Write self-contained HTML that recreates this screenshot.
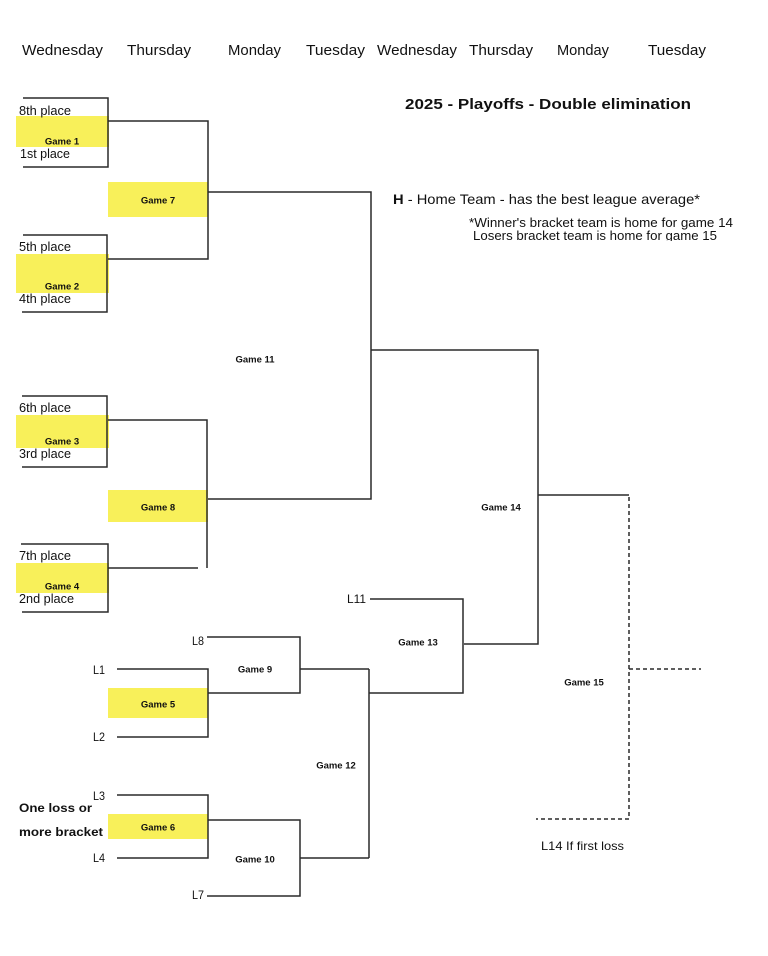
<!DOCTYPE html>
<html><head><meta charset="utf-8"><style>
html,body{margin:0;padding:0;background:#fff;}
svg{display:block;}
text{font-family:"Liberation Sans",sans-serif;fill:#111;}
.h{font-size:15px;}
.p{font-size:12.5px;}
.g{font-size:9.5px;font-weight:bold;}
.b{font-weight:bold;}
</style></head><body>
<svg width="768" height="956" viewBox="0 0 768 956" xmlns="http://www.w3.org/2000/svg">
<defs><clipPath id="cl"><rect x="0" y="0" width="768" height="241"/></clipPath></defs>
<!-- headers -->
<text class="h" x="22" y="55" textLength="81" lengthAdjust="spacingAndGlyphs">Wednesday</text>
<text class="h" x="127" y="55" textLength="64" lengthAdjust="spacingAndGlyphs">Thursday</text>
<text class="h" x="228" y="55" textLength="53" lengthAdjust="spacingAndGlyphs">Monday</text>
<text class="h" x="306" y="55" textLength="59" lengthAdjust="spacingAndGlyphs">Tuesday</text>
<text class="h" x="377" y="55" textLength="80" lengthAdjust="spacingAndGlyphs">Wednesday</text>
<text class="h" x="469" y="55" textLength="64" lengthAdjust="spacingAndGlyphs">Thursday</text>
<text class="h" x="557" y="55" textLength="52" lengthAdjust="spacingAndGlyphs">Monday</text>
<text class="h" x="648" y="55" textLength="58" lengthAdjust="spacingAndGlyphs">Tuesday</text>
<!-- title & notes -->
<text x="405" y="109" font-size="15" font-weight="bold" textLength="286" lengthAdjust="spacingAndGlyphs">2025 - Playoffs - Double elimination</text>
<text x="393" y="204" font-size="14" textLength="307" lengthAdjust="spacingAndGlyphs"><tspan font-weight="bold">H</tspan> - Home Team - has the best league average*</text>
<text x="469" y="227" font-size="12.5" textLength="264" lengthAdjust="spacingAndGlyphs">*Winner's bracket team is home for game 14</text>
<g clip-path="url(#cl)"><text x="473" y="240" font-size="12.5" textLength="244" lengthAdjust="spacingAndGlyphs">Losers bracket team is home for game 15</text></g>
<!-- yellow boxes -->
<g fill="#F8F05A">
<rect x="16" y="116" width="93" height="31"/>
<rect x="16" y="254" width="93" height="39"/>
<rect x="16" y="415" width="93" height="33"/>
<rect x="16" y="563" width="93" height="30"/>
<rect x="108" y="182" width="100" height="35"/>
<rect x="108" y="490" width="100" height="32"/>
<rect x="108" y="688" width="100" height="30"/>
<rect x="108" y="814" width="100" height="25"/>
</g>
<!-- lines -->
<g fill="none" stroke="#2a2a2a" stroke-width="1.5">
<path d="M23,98 H108 V167 H23"/>
<path d="M108,121 H208 V259 H108"/>
<path d="M208,192 H371 V499 H208"/>
<path d="M23,235 H107 V312 H22"/>
<path d="M22,396 H107 V467 H22"/>
<path d="M108,420 H207 V568"/>
<path d="M108,568 H198"/>
<path d="M21,544 H108 V612 H22"/>
<path d="M371,350 H538 V644 H464"/>
<path d="M538,495 H629"/>
<path d="M370,599 H463 V693 H369"/>
<path d="M369,669 V858"/>
<path d="M300,669 H369"/>
<path d="M300,858 H369"/>
<path d="M207,637 H300 V693 H208"/>
<path d="M117,669 H208 V737 H117"/>
<path d="M117,795 H208 V858 H117"/>
<path d="M208,820 H300 V896 H207"/>
</g>
<g fill="none" stroke="#2a2a2a" stroke-width="1.5" stroke-dasharray="4,3">
<path d="M629,497 V819 H536"/>
<path d="M629,669 H701"/>
</g>
<!-- place labels -->
<text class="p" x="19" y="115" textLength="52" lengthAdjust="spacingAndGlyphs">8th place</text>
<text class="p" x="20" y="158" textLength="50" lengthAdjust="spacingAndGlyphs">1st place</text>
<text class="p" x="19" y="251" textLength="52" lengthAdjust="spacingAndGlyphs">5th place</text>
<text class="p" x="19" y="303" textLength="52" lengthAdjust="spacingAndGlyphs">4th place</text>
<text class="p" x="19" y="412" textLength="52" lengthAdjust="spacingAndGlyphs">6th place</text>
<text class="p" x="19" y="458" textLength="52" lengthAdjust="spacingAndGlyphs">3rd place</text>
<text class="p" x="19" y="560" textLength="52" lengthAdjust="spacingAndGlyphs">7th place</text>
<text class="p" x="19" y="603" textLength="55" lengthAdjust="spacingAndGlyphs">2nd place</text>
<!-- game labels -->
<g class="g" text-anchor="middle">
<text class="g" x="62" y="144.5">Game 1</text>
<text class="g" x="62" y="289.5">Game 2</text>
<text class="g" x="62" y="444.5">Game 3</text>
<text class="g" x="62" y="589.5">Game 4</text>
<text class="g" x="158" y="203.5">Game 7</text>
<text class="g" x="158" y="510.5">Game 8</text>
<text class="g" x="255" y="362.5">Game 11</text>
<text class="g" x="158" y="707.5">Game 5</text>
<text class="g" x="158" y="830.5">Game 6</text>
<text class="g" x="255" y="672.5">Game 9</text>
<text class="g" x="255" y="862.5">Game 10</text>
<text class="g" x="336" y="768.5">Game 12</text>
<text class="g" x="418" y="645.5">Game 13</text>
<text class="g" x="501" y="510.5">Game 14</text>
<text class="g" x="584" y="685.5">Game 15</text>
</g>
<!-- L labels -->
<g font-size="12">
<text x="192" y="645" textLength="12" lengthAdjust="spacingAndGlyphs">L8</text>
<text x="93" y="674" textLength="12" lengthAdjust="spacingAndGlyphs">L1</text>
<text x="93" y="741" textLength="12" lengthAdjust="spacingAndGlyphs">L2</text>
<text x="93" y="800" textLength="12" lengthAdjust="spacingAndGlyphs">L3</text>
<text x="93" y="862" textLength="12" lengthAdjust="spacingAndGlyphs">L4</text>
<text x="192" y="899" textLength="12" lengthAdjust="spacingAndGlyphs">L7</text>
<text x="347" y="603" textLength="19" lengthAdjust="spacingAndGlyphs">L11</text>
<text x="541" y="850" textLength="83" lengthAdjust="spacingAndGlyphs">L14 If first loss</text>
</g>
<text x="19" y="812" font-size="12" font-weight="bold" textLength="73" lengthAdjust="spacingAndGlyphs">One loss or</text>
<text x="19" y="836" font-size="12" font-weight="bold" textLength="84" lengthAdjust="spacingAndGlyphs">more bracket</text>
</svg>
</body></html>
